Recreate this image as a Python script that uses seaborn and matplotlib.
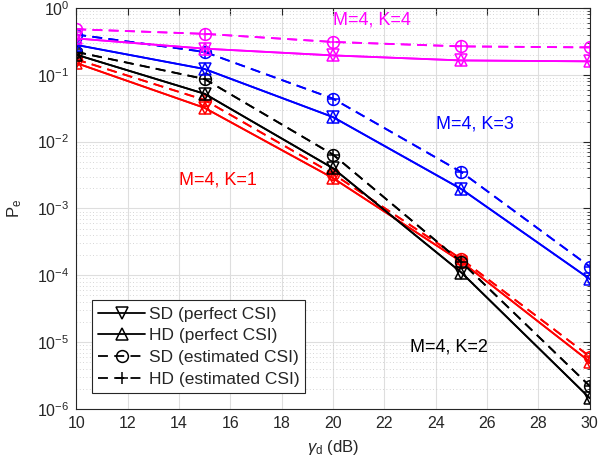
import numpy as np
import pandas as pd
import matplotlib
matplotlib.use("Agg")
import matplotlib.pyplot as plt
import seaborn as sns
from matplotlib.ticker import LogLocator, NullFormatter, FixedLocator
from matplotlib.lines import Line2D

# ---------------- data ----------------
snr_db = [10, 15, 20, 25, 30]

# K=1 (red)
k1_perfect = [0.15, 0.032, 0.00285, 1.6e-4, 5.1e-6]
k1_est     = [0.17, 0.042, 0.0033, 1.75e-4, 6.1e-6]
# K=2 (black)
k2_perfect = [0.20, 0.052, 0.0040, 1.1e-4, 1.45e-6]
k2_est     = [0.22, 0.0865, 0.0064, 1.58e-4, 2.2e-6]
# K=3 (blue)
k3_perfect = [0.28, 0.122, 0.0233, 1.95e-3, 8.8e-5]
k3_est     = [0.40, 0.22, 0.044, 3.5e-3, 1.35e-4]
# K=4 (magenta)
k4_perfect = [0.35, 0.246, 0.195, 0.164, 0.159]
k4_est     = [0.48, 0.41, 0.31, 0.266, 0.257]

groups = ["K=1", "K=2", "K=3", "K=4"]
group_colors = {"K=1": "#ff0000", "K=2": "#000000", "K=3": "#0000ff", "K=4": "#ff00ff"}
perfect = {"K=1": k1_perfect, "K=2": k2_perfect, "K=3": k3_perfect, "K=4": k4_perfect}
estimated = {"K=1": k1_est, "K=2": k2_est, "K=3": k3_est, "K=4": k4_est}

legend_labels = ["SD (perfect CSI)", "HD (perfect CSI)", "SD (estimated CSI)", "HD (estimated CSI)"]

ann_text = ["M=4, K=4", "M=4, K=3", "M=4, K=1", "M=4, K=2"]
ann_x = [20.0, 24.0, 14.0, 23.0]
ann_y = [0.66, 0.0185, 0.0027, 8.6e-6]
ann_colors = ["#ff00ff", "#0000ff", "#ff0000", "#000000"]

y_major = [1e-6, 1e-5, 1e-4, 1e-3, 1e-2, 1e-1, 1e0]
y_major_labels = [r"$10^{-6}$", r"$10^{-5}$", r"$10^{-4}$", r"$10^{-3}$",
                  r"$10^{-2}$", r"$10^{-1}$", r"$10^{0}$"]

# ---------------- plot ----------------
sns.set_style("white")
plt.rcParams['font.family'] = ['Liberation Sans', 'DejaVu Sans']
plt.rcParams['mathtext.fontset'] = 'custom'
plt.rcParams['mathtext.rm'] = 'Liberation Sans'
plt.rcParams['mathtext.it'] = 'Liberation Sans:italic'

fig = plt.figure(figsize=(6.0, 4.68), dpi=100)
ax = fig.add_axes([0.127, 0.126, 0.856, 0.857])

rows = []
for g in groups:
    for s, vals in [("SD (perfect CSI)", perfect[g]), ("HD (perfect CSI)", perfect[g]),
                    ("SD (estimated CSI)", estimated[g]), ("HD (estimated CSI)", estimated[g])]:
        for xv, yv in zip(snr_db, vals):
            rows.append({"snr": xv, "pe": yv, "group": g, "scheme": s})
df = pd.DataFrame(rows)

dash = (0, (5.5, 3.5))
styles = {
    "SD (perfect CSI)": dict(linestyle="-", marker="v"),
    "HD (perfect CSI)": dict(linestyle="-", marker="^"),
    "SD (estimated CSI)": dict(linestyle=dash, marker="o"),
    "HD (estimated CSI)": dict(linestyle=dash, marker="+"),
}

for g in groups:
    for s in legend_labels:
        sub = df[(df.group == g) & (df.scheme == s)]
        st = styles[s]
        sns.lineplot(data=sub, x="snr", y="pe", ax=ax, color=group_colors[g],
                     linestyle=st["linestyle"], marker=st["marker"],
                     markersize=8.5, markerfacecolor="none",
                     markeredgecolor=group_colors[g], markeredgewidth=1.1,
                     linewidth=1.3, legend=False, errorbar=None, sort=False)

ax.set_yscale("log")
ax.set_xlim(10, 30)
ax.set_ylim(1e-6, 1)
ax.set_xticks(np.arange(10, 31, 2))
ax.set_yticks(y_major)
ax.set_yticklabels(y_major_labels)
minor_locs = [m * 10.0 ** e for e in range(-6, 0) for m in range(2, 10)]
ax.yaxis.set_minor_locator(FixedLocator(minor_locs))
ax.yaxis.set_minor_formatter(NullFormatter())
ax.set_ylim(1e-6, 1)

ax.grid(which="major", color="#dedede", linewidth=0.8, linestyle="-")
ax.grid(which="minor", axis="y", color="#c8c8c8", linewidth=0.6, linestyle=(0, (1, 3)))
ax.set_axisbelow(True)

for sp in ax.spines.values():
    sp.set_color("#262626")
    sp.set_linewidth(0.8)
ax.tick_params(which="both", direction="in", top=True, right=True, colors="#262626",
               labelsize=11.5, labelcolor="#262626")
ax.tick_params(which="major", length=5, pad=5)
ax.tick_params(which="minor", length=2.5)

ax.set_xlabel(r"$\gamma_{\rm d}$ (dB)", fontsize=12, color="#262626", labelpad=5)
ax.set_ylabel(r"P$_{\rm e}$", fontsize=12, color="#262626", labelpad=9)

for t, xx, yy, c in zip(ann_text, ann_x, ann_y, ann_colors):
    ax.text(xx, yy, t, color=c, fontsize=13, ha="left", va="center")

# legend (black proxies)
handles = []
for s in legend_labels:
    st = styles[s]
    handles.append(Line2D([0], [0], color="black", linestyle=st["linestyle"], marker=st["marker"],
                          markersize=8.5, markerfacecolor="none", markeredgecolor="black",
                          markeredgewidth=1.1, linewidth=1.3))
leg = ax.legend(handles, legend_labels, loc="lower left", bbox_to_anchor=(0.031, 0.04),
                fontsize=12.5, frameon=True, fancybox=False, framealpha=1,
                edgecolor="#262626", handlelength=2.7, handletextpad=0.2,
                labelspacing=0.38, borderpad=0.35, borderaxespad=0)
leg.get_frame().set_linewidth(0.8)

fig.savefig("out.png", dpi=100)
